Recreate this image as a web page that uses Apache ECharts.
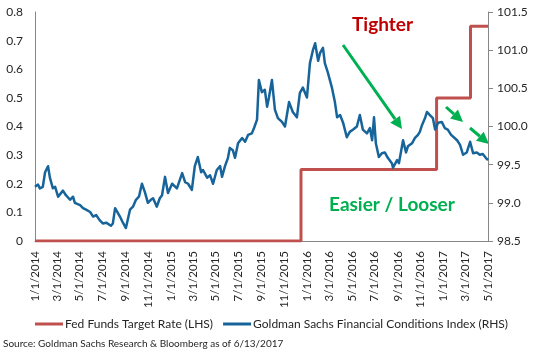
<!DOCTYPE html>
<html>
<head>
<meta charset="utf-8">
<script src="https://cdn.jsdelivr.net/npm/echarts@6/dist/echarts.min.js"></script>
<style>
  html, body { margin: 0; padding: 0; background: #fff; }
  #chart { width: 535px; height: 353px; }
</style>
</head>
<body>
<div id="chart"></div>
<script>
// Goldman Sachs Financial Conditions Index (RHS)
var fcDates = [
  '2014-01-01','2014-01-09','2014-01-14','2014-01-22','2014-01-28','2014-02-05','2014-02-10','2014-02-18','2014-02-24','2014-03-04',
  '2014-03-17','2014-03-25','2014-04-05','2014-04-13','2014-04-18','2014-05-02','2014-05-10','2014-05-18','2014-05-29','2014-06-06',
  '2014-06-14','2014-06-24','2014-07-02','2014-07-11','2014-07-24','2014-07-29','2014-08-04','2014-08-06','2014-08-17','2014-08-25',
  '2014-09-02','2014-09-13','2014-09-21','2014-09-29','2014-10-07','2014-10-15','2014-10-23','2014-10-31','2014-11-08','2014-11-14',
  '2014-11-24','2014-12-02','2014-12-08','2014-12-16','2014-12-24','2015-01-04','2015-01-17','2015-01-31','2015-02-08','2015-02-16',
  '2015-02-26','2015-03-06','2015-03-14','2015-03-23','2015-03-28','2015-04-08','2015-04-16','2015-04-24','2015-05-04','2015-05-13',
  '2015-05-18','2015-05-26','2015-06-03','2015-06-08','2015-06-16','2015-06-22','2015-06-30','2015-07-11','2015-07-19','2015-07-27',
  '2015-08-06','2015-08-12','2015-08-17','2015-08-20','2015-08-25','2015-09-02','2015-09-10','2015-09-16','2015-09-21','2015-09-29',
  '2015-10-07','2015-10-15','2015-10-26','2015-11-03','2015-11-14','2015-11-24','2015-12-05','2015-12-13','2015-12-21','2016-01-01',
  '2016-01-09','2016-01-17','2016-01-23','2016-01-31','2016-02-05','2016-02-13','2016-02-18','2016-02-26','2016-03-08','2016-03-16',
  '2016-03-22','2016-03-30','2016-04-07','2016-04-17','2016-04-25','2016-05-04','2016-05-14','2016-05-22','2016-05-30','2016-06-10',
  '2016-06-18','2016-06-24','2016-06-29','2016-07-04','2016-07-12','2016-07-20','2016-07-28','2016-08-05','2016-08-16','2016-08-19',
  '2016-08-30','2016-09-04','2016-09-15','2016-09-23','2016-09-28','2016-10-09','2016-10-17','2016-10-25','2016-10-30','2016-11-05',
  '2016-11-13','2016-11-18','2016-11-26','2016-12-04','2016-12-10','2016-12-18','2016-12-28','2017-01-05','2017-01-13','2017-01-22',
  '2017-01-27','2017-02-07','2017-02-15','2017-02-23','2017-03-05','2017-03-14','2017-03-22','2017-04-01','2017-04-09','2017-04-17',
  '2017-04-25','2017-05-01'
];
var fcValues = [
  99.21, 99.24, 99.19, 99.21, 99.40, 99.48, 99.33, 99.19, 99.21, 99.08,
  99.16, 99.10, 99.04, 99.08, 99.00, 98.97, 98.93, 98.91, 98.88, 98.82,
  98.84, 98.77, 98.73, 98.74, 98.70, 98.73, 98.93, 98.95, 98.82, 98.74,
  98.67, 98.91, 98.95, 99.04, 99.08, 99.25, 99.14, 99.00, 99.04, 99.06,
  98.95, 99.06, 99.10, 99.34, 99.13, 99.25, 99.19, 99.39, 99.27, 99.25,
  99.17, 99.48, 99.60, 99.40, 99.43, 99.33, 99.36, 99.25, 99.43, 99.48,
  99.34, 99.48, 99.59, 99.72, 99.69, 99.59, 99.78, 99.85, 99.80, 99.89,
  99.91, 99.98, 100.00, 100.09, 100.61, 100.45, 100.48, 100.26, 100.38, 100.61,
  100.22, 100.11, 100.06, 100.00, 100.32, 100.19, 100.12, 100.44, 100.51, 100.38,
  100.83, 101.00, 101.09, 100.86, 100.96, 101.03, 100.83, 100.71, 100.51, 100.32,
  100.12, 100.15, 100.05, 99.86, 99.93, 99.96, 100.00, 100.15, 99.96, 99.91,
  99.98, 99.82, 100.12, 99.78, 99.60, 99.65, 99.66, 99.59, 99.52, 99.46,
  99.56, 99.52, 99.82, 99.66, 99.74, 99.78, 99.85, 99.89, 99.93, 100.02,
  100.11, 100.19, 100.15, 100.11, 99.96, 100.05, 100.06, 99.98, 99.96, 99.89,
  99.91, 99.82, 99.76, 99.63, 99.66, 99.80, 99.65, 99.66, 99.63, 99.64,
  99.59, 99.56
];

// Fed Funds Target Rate (LHS), value changes on each date
var fedDates = ['2014-01-01', '2015-12-16', '2016-12-14', '2017-03-15', '2017-05-01'];
var fedValues = [0, 0.25, 0.5, 0.75, 0.75];

// x axis tick labels (every two months)
var tickDates = [
  '2014-01-01','2014-03-01','2014-05-01','2014-07-01','2014-09-01','2014-11-01',
  '2015-01-01','2015-03-01','2015-05-01','2015-07-01','2015-09-01','2015-11-01',
  '2016-01-01','2016-03-01','2016-05-01','2016-07-01','2016-09-01','2016-11-01',
  '2017-01-01','2017-03-01','2017-05-01'
];

var seriesNames = ['Fed Funds Target Rate (LHS)', 'Goldman Sachs Financial Conditions Index (RHS)'];
var sourceText = 'Source: Goldman Sachs Research & Bloomberg as of 6/13/2017';

var FONT = 'Lato, "Liberation Sans", sans-serif';
var GREEN = '#00B050';

function toTime(s) {
  var p = s.split('-');
  return new Date(+p[0], +p[1] - 1, +p[2]).getTime();
}
function pairs(dates, values) {
  return dates.map(function (d, i) { return [toTime(d), values[i]]; });
}

// green arrow: shaft + head
function arrow(x1, y1, x2, y2) {
  var a = Math.atan2(y2 - y1, x2 - x1), len = 12, w = 6;
  var bx = x2 - len * Math.cos(a), by = y2 - len * Math.sin(a);
  return [{
    type: 'line',
    shape: { x1: x1, y1: y1, x2: bx, y2: by },
    style: { stroke: GREEN, lineWidth: 3 }
  }, {
    type: 'polygon',
    shape: { points: [[x2, y2], [bx + w * Math.sin(a), by - w * Math.cos(a)], [bx - w * Math.sin(a), by + w * Math.cos(a)]] },
    style: { fill: GREEN }
  }];
}

var chart = echarts.init(document.getElementById('chart'));

var option = {
  animation: false,
  textStyle: { fontFamily: FONT },
  grid: { left: 35, right: 47, top: 12, bottom: 112, containLabel: false },
  legend: {
    data: seriesNames,
    left: 30,
    top: 313,
    icon: 'rect',
    itemWidth: 28,
    itemHeight: 3,
    itemGap: 10,
    textStyle: { fontFamily: FONT, fontSize: 12, color: '#262626', padding: [0, 0, 0, -3] }
  },
  // dates as timestamps on a value axis, labels at the first of every other month
  xAxis: {
    type: 'value',
    min: toTime('2014-01-01'),
    max: toTime('2017-05-01'),
    splitLine: { show: false },
    axisLine: { lineStyle: { color: '#868686', width: 1 } },
    axisTick: { show: false },
    axisLabel: {
      rotate: 90,
      margin: 10,
      fontSize: 11.5,
      color: '#262626',
      fontFamily: FONT,
      hideOverlap: false,
      customValues: tickDates.map(toTime),
      formatter: function (v) {
        var d = new Date(v);
        return (d.getMonth() + 1) + '/' + d.getDate() + '/' + d.getFullYear();
      }
    }
  },
  yAxis: [{
    type: 'value',
    min: 0,
    max: 0.8,
    interval: 0.1,
    splitLine: { show: false },
    axisLine: { show: true, lineStyle: { color: '#868686' } },
    axisTick: { show: false },
    axisLabel: { fontSize: 12, color: '#262626', margin: 12, fontFamily: FONT }
  }, {
    type: 'value',
    min: 98.5,
    max: 101.5,
    interval: 0.5,
    splitLine: { show: false },
    axisLine: { show: true, lineStyle: { color: '#868686' } },
    axisTick: { show: true, length: 5, lineStyle: { color: '#868686' } },
    axisLabel: {
      fontSize: 12, color: '#262626', margin: 9, fontFamily: FONT,
      formatter: function (v) { return v.toFixed(1); }
    }
  }],
  series: [{
    name: seriesNames[0],
    type: 'line',
    yAxisIndex: 0,
    step: 'end',
    showSymbol: false,
    color: '#C0504D',
    lineStyle: { width: 3, color: '#C0504D' },
    data: pairs(fedDates, fedValues)
  }, {
    name: seriesNames[1],
    type: 'line',
    yAxisIndex: 1,
    showSymbol: false,
    color: '#17649A',
    lineStyle: { width: 2.5, color: '#17649A', join: 'round' },
    data: pairs(fcDates, fcValues)
  }],
  graphic: [].concat(
    arrow(343, 45, 402, 129),
    arrow(446, 107, 463, 122),
    arrow(470, 128, 489, 144),
    [{
      type: 'text',
      x: 352, y: 25,
      style: { text: 'Tighter', fill: '#C00000', font: 'bold 19px ' + FONT, textVerticalAlign: 'middle' }
    }, {
      type: 'text',
      x: 329, y: 205,
      style: { text: 'Easier / Looser', fill: GREEN, font: 'bold 19px ' + FONT, textVerticalAlign: 'middle' }
    }, {
      type: 'text',
      x: 3, y: 344,
      style: { text: sourceText, fill: '#262626', font: '10px ' + FONT, textVerticalAlign: 'middle' }
    }]
  )
};

chart.setOption(option);
</script>
</body>
</html>
